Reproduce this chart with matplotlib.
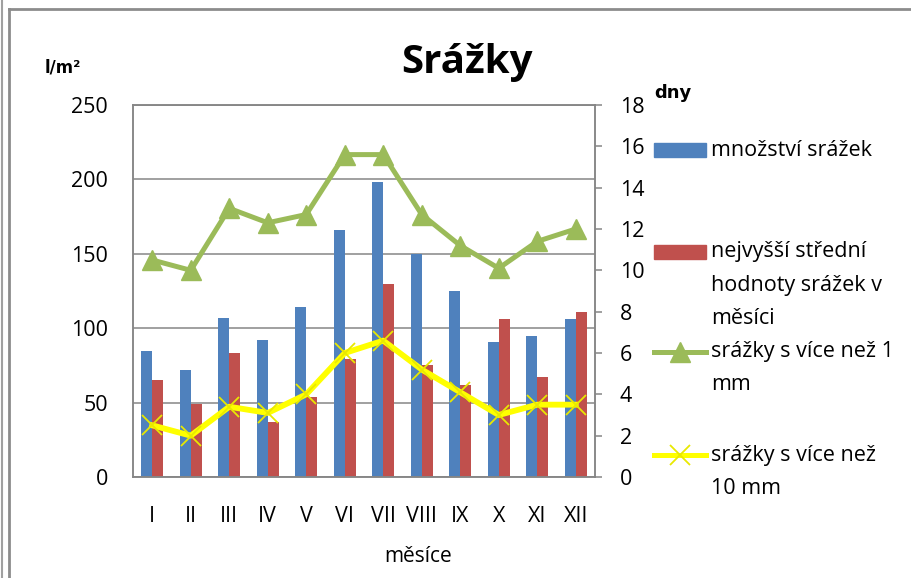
import matplotlib.pyplot as plt
from matplotlib.lines import Line2D
from matplotlib.patches import Rectangle
import numpy as np

plt.rcParams['font.family'] = ['Open Sans', 'DejaVu Sans']

# Data
months = ['I', 'II', 'III', 'IV', 'V', 'VI', 'VII', 'VIII', 'IX', 'X', 'XI', 'XII']
amount = [85, 72, 107, 92, 114, 166, 198, 150, 125, 91, 95, 106]
max_mean = [65, 49, 83, 37, 54, 79, 130, 75, 62, 106, 67, 111]
days_1mm = [10.5, 10.0, 13.0, 12.3, 12.7, 15.6, 15.6, 12.7, 11.2, 10.1, 11.4, 12.0]
days_10mm = [2.5, 2.0, 3.4, 3.1, 4.0, 6.0, 6.6, 5.2, 4.1, 3.0, 3.5, 3.5]

blue = '#4F81BD'
red = '#C0504D'
green = '#9BBB59'
yellow = '#FFFF00'
grey = '#868686'

fig = plt.figure(figsize=(9.12, 5.78), dpi=100)
ax = fig.add_axes([133 / 912, 1 - 477 / 578, 462 / 912, 372 / 578])
ax2 = ax.twinx()

x = np.arange(len(months))
w = 0.286
ax.bar(x - w / 2, amount, w, color=blue, zorder=2)
ax.bar(x + w / 2, max_mean, w, color=red, zorder=2)

ax2.plot(x, days_1mm, color=green, lw=3.6, marker='^', ms=14, zorder=3)
ax2.plot(x, days_10mm, color=yellow, lw=4.2, marker='x', ms=14, mew=1.3,
         mec='#E8E800', zorder=3)

ax.set_xlim(-0.5, 11.5)
ax.set_ylim(0, 250)
ax.set_yticks(range(0, 251, 50))
ax2.set_ylim(0, 18)
ax2.set_yticks(range(0, 19, 2))
ax.set_xticks(x)
ax.set_xticklabels(months)

ax.grid(axis='y', color=grey, lw=1.1, zorder=0)
ax.set_axisbelow(True)
for a in (ax, ax2):
    for s in a.spines.values():
        s.set_color(grey)
        s.set_linewidth(1.1)
ax.tick_params(axis='x', length=0, pad=21, labelsize=15.5, colors='black')
ax.tick_params(axis='y', length=0, pad=18, labelsize=15.5)
ax2.tick_params(axis='y', length=5, width=1.1, color=grey, pad=13, labelsize=15.5)

fig.text(467 / 912, 1 - 62 / 578, 'Srážky', ha='center', va='center',
         fontsize=29, fontweight='bold')
fig.text(45 / 912, 1 - 68 / 578, 'l/m²', ha='left', va='center', fontsize=12,
         fontweight='bold', family=['DejaVu Sans'])
fig.text(654 / 912, 1 - 93 / 578, 'dny', ha='left', va='center', fontsize=13,
         fontweight='bold', family=['DejaVu Sans'])
fig.text(418 / 912, 1 - 557 / 578, 'měsíce', ha='center', va='center',
         fontsize=15)

# Legend, drawn by hand to keep Excel's uneven spacing
def fy(py):
    return 1 - py / 578

fig.add_artist(Rectangle((654 / 912, fy(157)), 52 / 912, 14 / 578,
                         color=blue, transform=fig.transFigure))
fig.add_artist(Rectangle((654 / 912, fy(259)), 52 / 912, 14 / 578,
                         color=red, transform=fig.transFigure))
fig.add_artist(Line2D([654 / 912, 706 / 912], [fy(352), fy(352)], color=green,
                      lw=3.6, transform=fig.transFigure))
fig.add_artist(Line2D([680 / 912], [fy(352)], color=green, marker='^', ms=14,
                      transform=fig.transFigure))
fig.add_artist(Line2D([654 / 912, 706 / 912], [fy(455), fy(455)], color=yellow,
                      lw=3.6, transform=fig.transFigure))
fig.add_artist(Line2D([680 / 912], [fy(455)], color='#E8E800', marker='x', ms=14,
                      mew=1.3, transform=fig.transFigure))

leg_items = [('množství srážek', 150), ('nejvyšší střední', 252),
             ('hodnoty srážek v', 285), ('měsíci', 318),
             ('srážky s více než 1', 352), ('mm', 385),
             ('srážky s více než', 455), ('10 mm', 488)]
for txt, py in leg_items:
    fig.text(711 / 912, fy(py), txt, ha='left', va='center', fontsize=15.5)

# Outer chart frame
fig.add_artist(Line2D([2 / 912, 2 / 912], [0, 1], color='#A0A0A0', lw=1.5,
                      transform=fig.transFigure))
fig.add_artist(Line2D([9 / 912, 9 / 912], [0, fy(9)], color='#8C8C8C', lw=2,
                      transform=fig.transFigure))
fig.add_artist(Line2D([9 / 912, 1], [fy(9), fy(9)], color='#8C8C8C', lw=2,
                      transform=fig.transFigure))

fig.savefig('out.png', dpi=100)
